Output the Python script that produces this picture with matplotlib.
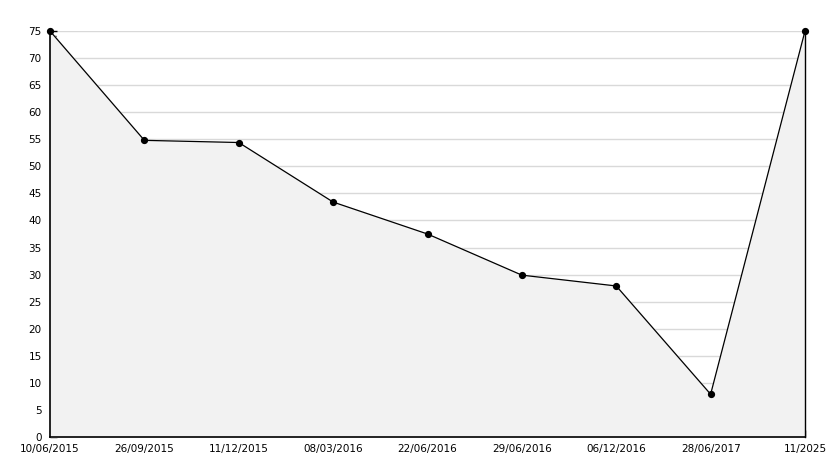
import matplotlib
matplotlib.use("Agg")
import matplotlib.pyplot as plt
from matplotlib.ticker import MultipleLocator

labels = ["10/06/2015", "26/09/2015", "11/12/2015", "08/03/2016", "22/06/2016",
          "29/06/2016", "06/12/2016", "28/06/2017", "11/2025"]
values = [75, 54.8, 54.4, 43.4, 37.5, 29.9, 27.9, 7.9, 75]

fig = plt.figure(figsize=(8.34, 4.68), dpi=100)
ax = fig.add_axes([50/834, 31/468, 755/834, 406/468])
x = list(range(len(labels)))
ax.fill_between(x, values, 0, color="#f2f2f2", zorder=1)
ax.plot(x, values, color="black", lw=0.9, marker="o", ms=4.2, zorder=3, clip_on=False)
ax.set_xlim(0, len(labels) - 1)
ax.set_ylim(0, 75)
ax.yaxis.set_major_locator(MultipleLocator(5))
ax.yaxis.set_minor_locator(MultipleLocator(1))
ax.set_xticks(x)
ax.set_xticklabels(labels)
ax.grid(axis="y", color="#d9d9d9", lw=1, zorder=0)
ax.set_axisbelow(True)
ax.tick_params(axis="both", which="major", direction="in", length=5, width=1,
               color="black", labelsize=7.5)
ax.tick_params(axis="y", which="minor", direction="in", length=4, width=1)
ax.tick_params(axis="y", which="major", pad=6)
ax.tick_params(axis="x", which="major", pad=5)
ax.spines["top"].set_visible(False)
ax.spines["right"].set_linewidth(1)
for s in ["left", "bottom"]:
    ax.spines[s].set_linewidth(1.2)
fig.savefig("out.png", dpi=100)
